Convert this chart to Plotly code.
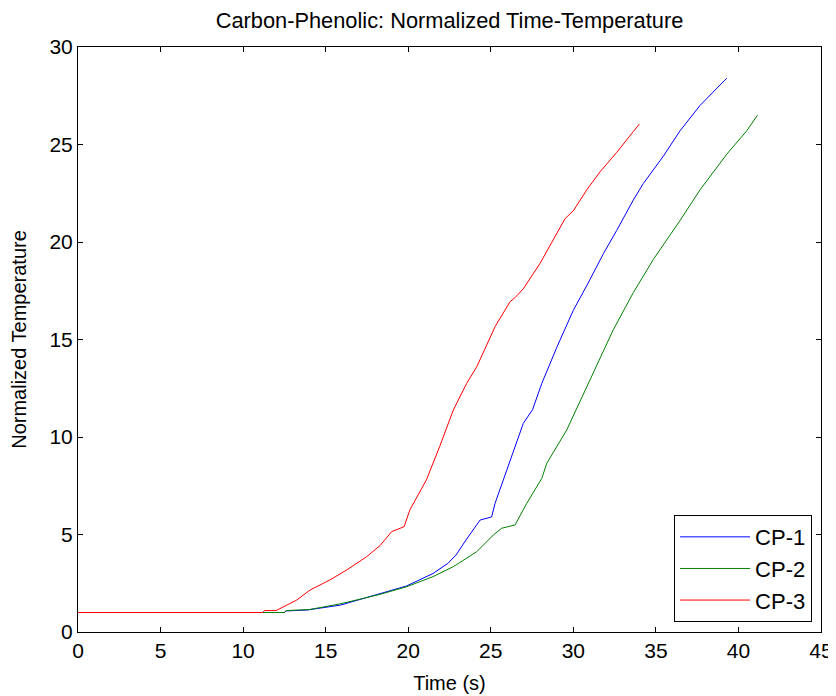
import plotly.graph_objects as go

# CP-1 (blue)
cp1_t = [0, 12.5, 12.6, 13.9, 15.9, 17.0, 18.3, 19.9, 21.5, 22.4, 22.9, 23.5, 24.35, 25.05, 25.26,
         26.17, 26.97, 27.53, 28.09, 29.0, 30.0, 30.9, 31.82, 32.63, 33.63, 34.24, 35.45, 36.46,
         37.67, 39.29]
cp1_v = [1.0, 1.0, 1.08, 1.13, 1.38, 1.65, 2.0, 2.36, 3.0, 3.52, 3.95, 4.72, 5.74, 5.9, 6.6,
         8.8, 10.7, 11.4, 12.75, 14.6, 16.5, 17.9, 19.4, 20.6, 22.15, 23.0, 24.4, 25.7,
         27.0, 28.4]

# CP-2 (green)
cp2_t = [0, 12.5, 12.6, 14.0, 15.87, 18.29, 19.9, 21.5, 22.73, 24.15, 25.15, 25.66, 26.47, 27.18,
         28.09, 28.39, 29.6, 30.16, 30.9, 31.62, 32.42, 33.63, 34.84, 36.46, 37.67, 39.29, 40.5,
         41.15]
cp2_v = [1.0, 1.0, 1.1, 1.15, 1.44, 1.93, 2.32, 2.84, 3.35, 4.12, 4.97, 5.32, 5.49, 6.6,
         7.88, 8.65, 10.36, 11.38, 12.75, 14.1, 15.5, 17.4, 19.1, 21.1, 22.67, 24.5, 25.7,
         26.5]

# CP-3 (red)
cp3_t = [0, 11.2, 11.3, 12.0, 13.25, 14.05, 15.26, 16.27, 17.48, 18.29, 19.0, 19.75, 20.1, 21.1,
         21.9, 22.73, 23.54, 24.15, 25.26, 26.17, 26.47, 26.97, 27.98, 28.79, 29.5, 30.0, 30.81,
         31.62, 32.63, 33.63, 34.0]
cp3_v = [1.0, 1.0, 1.1, 1.1, 1.64, 2.15, 2.67, 3.18, 3.86, 4.43, 5.15, 5.4, 6.26, 7.8,
         9.5, 11.38, 12.75, 13.6, 15.66, 16.94, 17.15, 17.6, 18.9, 20.1, 21.2, 21.6, 22.67,
         23.6, 24.6, 25.66, 26.05]

series = [
    ("CP-1", cp1_t, cp1_v, "#0000ff"),
    ("CP-2", cp2_t, cp2_v, "#008000"),
    ("CP-3", cp3_t, cp3_v, "#ff0000"),
]

x_ticks = [0, 5, 10, 15, 20, 25, 30, 35, 40, 45]
y_ticks = [0, 5, 10, 15, 20, 25, 30]

FONT = "Liberation Sans, Arial, sans-serif"
W, H = 828, 688  # page body has an 8px margin

fig = go.Figure()
for name, t, v, c in series:
    fig.add_trace(go.Scatter(x=t, y=v, mode="lines", name=name, legendgroup=name,
                             line=dict(color=c, width=1)))

axis_common = dict(showline=True, linecolor="black", linewidth=1, mirror="ticks",
                   ticks="inside", ticklen=5, tickcolor="black", showgrid=False,
                   zeroline=False, automargin=False,
                   tickfont=dict(size=21, color="black", family=FONT))

fig.update_layout(
    width=W, height=H,
    margin=dict(l=70, r=15, t=39, b=64),
    paper_bgcolor="white", plot_bgcolor="white",
    font=dict(family=FONT, size=20, color="black"),
    title=dict(text="Carbon-Phenolic: Normalized Time-Temperature", x=0.5, xref="paper",
               y=1 - 12 / H, yanchor="middle",
               font=dict(size=21.8, color="black", family=FONT)),
    xaxis=dict(range=[0, 45], tickvals=x_ticks,
               title=dict(text="Time (s)", standoff=14,
                          font=dict(size=20, color="black", family=FONT)),
               **axis_common),
    yaxis=dict(range=[0, 30], tickvals=y_ticks,
               title=dict(text="Normalized Temperature", standoff=17,
                          font=dict(size=20, color="black", family=FONT)),
               **axis_common),
    legend=dict(x=0.988, y=0.017, xanchor="right", yanchor="bottom",
                bgcolor="white", bordercolor="black", borderwidth=1,
                font=dict(size=22, color="black", family=FONT), itemwidth=70,
                entrywidth=150, entrywidthmode="pixels",
                tracegroupgap=4, traceorder="normal"),
    showlegend=True,
)

fig.write_html("out.html")
